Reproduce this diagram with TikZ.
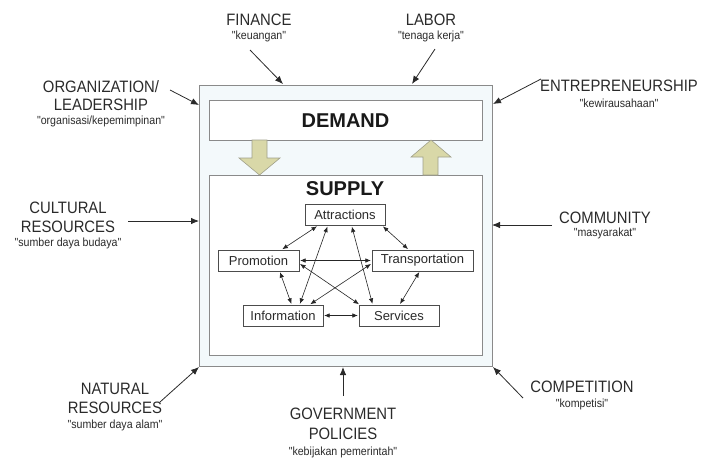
\documentclass[tikz,border=0pt]{standalone}
\usepackage{fontspec}
\setmainfont{Liberation Sans}
\newfontfamily\condfont[FakeStretch=0.9]{Liberation Sans}
\usetikzlibrary{arrows.meta}
\definecolor{txt}{HTML}{2A2A2A}
\definecolor{boxline}{HTML}{8A8A8A}
\definecolor{outerfill}{HTML}{F3F9FB}
\definecolor{khaki}{HTML}{D9D8A8}
\definecolor{khakiline}{HTML}{A0A08A}
\tikzset{
  factor/.style={text=txt, inner sep=0pt, font=\condfont\fontsize{16.5}{18}\selectfont},
  subt/.style={text=txt, inner sep=0pt, font=\condfont\fontsize{11.8}{13}\selectfont},
  inflow/.style={draw=txt, line width=0.8pt, -{Latex[length=8pt,width=6.5pt]}},
  elem/.style={draw=black!70, line width=0.7pt, fill=white, text=txt, inner sep=0pt,
    minimum height=21pt, font=\fontsize{13}{15}\selectfont},
  link/.style={draw=black!85, line width=0.6pt, {Latex[length=5.5pt,width=4.5pt]}-{Latex[length=5.5pt,width=4.5pt]}, shorten <=0.8pt, shorten >=0.8pt},
  bigbox/.style={draw=boxline, line width=0.9pt, fill=white},
  blockarrow/.style={draw=khakiline, line width=0.6pt, fill=khaki},
  heading/.style={text=black!90, inner sep=0pt, font=\fontsize{20}{24}\selectfont\bfseries}
}
\begin{document}
\begin{tikzpicture}[x=1pt,y=-1pt]
\useasboundingbox (0,0) rectangle (702,459);
% outer frame
\node[draw=boxline, line width=0.9pt, fill=outerfill, minimum width=293pt, minimum height=281pt, inner sep=0pt] (outer) at (345.5,225.5) {};
\node[bigbox, minimum width=273pt, minimum height=40pt, inner sep=0pt] (demandbox) at (345.5,120) {};
\node[heading] (demand) at (345.5,121) {DEMAND};
\node[bigbox, minimum width=273pt, minimum height=180pt, inner sep=0pt] (supplybox) at (345.5,265) {};
\node[heading] (supply) at (345,189) {SUPPLY};
% block arrows
\draw[blockarrow] (252,140) -- (267,140) -- (267,158) -- (280,158) -- (259.5,175) -- (239,158) -- (252,158) -- cycle;
\draw[blockarrow] (423,175) -- (438,175) -- (438,157) -- (451,157) -- (431,140) -- (411,157) -- (423,157) -- cycle;
% elements
\node[elem, minimum width=80pt] (attr) at (345,215) {Attractions};
\node[elem, minimum width=81pt] (prom) at (258.5,260.5) {Promotion};
\node[elem, minimum width=101pt] (trans) at (422.5,260.5) {Transportation};
\node[elem, minimum width=80pt] (info) at (283,315.5) {Information};
\node[elem, minimum width=80pt] (serv) at (399,315.5) {Services};
% links
\draw[link] ([xshift=13pt]attr.south west) -- ([xshift=64pt]prom.north west);
\draw[link] ([xshift=-3pt]attr.south east) -- ([xshift=37pt]trans.north west);
\draw[link] ([xshift=23pt]attr.south west) -- ([xshift=57pt]info.north west);
\draw[link] ([xshift=47pt]attr.south west) -- ([xshift=14pt]serv.north west);
\draw[link] (prom.east) -- (trans.west);
\draw[link] ([yshift=-3pt]prom.east) -- ([xshift=1pt]serv.north west);
\draw[link] ([yshift=-3pt]trans.west) -- ([xshift=67pt]info.north west);
\draw[link] ([xshift=62pt]prom.south west) -- ([xshift=49pt]info.north west);
\draw[link] ([xshift=48pt]trans.south west) -- ([xshift=41pt]serv.north west);
\draw[link] (info.east) -- (serv.west);
% outside factors
\node[factor] (fin) at (259,20) {FINANCE};
\node[subt] (fins) at (259,36) {"keuangan"};
\node[factor] (lab) at (431,20) {LABOR};
\node[subt] (labs) at (431,36) {"tenaga kerja"};
\node[factor] (org1) at (101,87) {ORGANIZATION/};
\node[factor] (org2) at (101,105) {LEADERSHIP};
\node[subt] (orgs) at (101,121) {"organisasi/kepemimpinan"};
\node[factor] (ent) at (619,86) {ENTREPRENEURSHIP};
\node[subt] (ents) at (619,103) {"kewirausahaan"};
\node[factor] (cul1) at (68,208) {CULTURAL};
\node[factor] (cul2) at (68,227) {RESOURCES};
\node[subt] (culs) at (68,243) {"sumber daya budaya"};
\node[factor] (com) at (605,218) {COMMUNITY};
\node[subt] (coms) at (605,233) {"masyarakat"};
\node[factor] (nat1) at (115,389) {NATURAL};
\node[factor] (nat2) at (115,408) {RESOURCES};
\node[subt] (nats) at (115,425) {"sumber daya alam"};
\node[factor] (gov1) at (343,414) {GOVERNMENT};
\node[factor] (gov2) at (343,434) {POLICIES};
\node[subt] (govs) at (343,452) {"kebijakan pemerintah"};
\node[factor] (cmp) at (582,387) {COMPETITION};
\node[subt] (cmps) at (582,404) {"kompetisi"};
% arrow end coordinates
\coordinate (finA) at (250,50);   \coordinate (finB) at (283,84);
\coordinate (labA) at (435,49);   \coordinate (labB) at (412,84);
\coordinate (orgA) at (170,90);   \coordinate (orgB) at (199,105);
\coordinate (entA) at (541,79);   \coordinate (entB) at (493,104);
\coordinate (culA) at (128,221);  \coordinate (culB) at (199,221);
\coordinate (comA) at (552,225);  \coordinate (comB) at (492,225);
\coordinate (natA) at (160,402);  \coordinate (natB) at (199,367);
\coordinate (govA) at (343,396);  \coordinate (govB) at (343,367);
\coordinate (cmpA) at (523,398);  \coordinate (cmpB) at (493,367);
\draw[inflow] (finA) -- (finB);
\draw[inflow] (labA) -- (labB);
\draw[inflow] (orgA) -- (orgB);
\draw[inflow] (entA) -- (entB);
\draw[inflow] (culA) -- (culB);
\draw[inflow] (comA) -- (comB);
\draw[inflow] (natA) -- (natB);
\draw[inflow] (govA) -- (govB);
\draw[inflow] (cmpA) -- (cmpB);
\end{tikzpicture}
\end{document}
